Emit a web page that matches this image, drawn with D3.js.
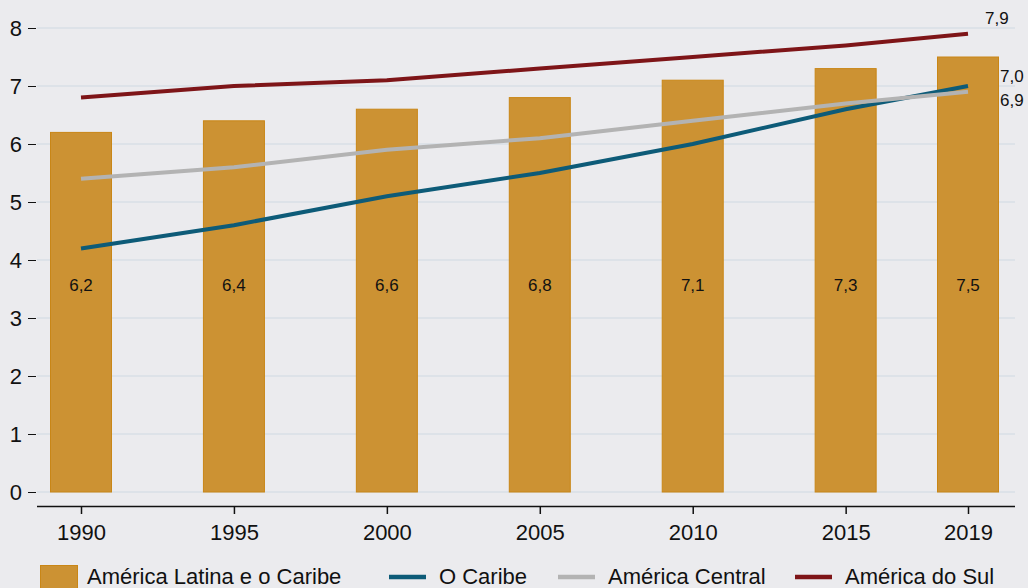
<!DOCTYPE html>
<html>
<head>
<meta charset="utf-8">
<script src="https://cdn.jsdelivr.net/npm/d3@7"></script>
<style>
  html, body { margin: 0; padding: 0; background: #ebebee; }
  svg { display: block; font-family: "Liberation Sans", Arial, sans-serif; }
</style>
</head>
<body>
<svg id="chart" width="1028" height="588"></svg>
<script>
// Years on the horizontal axis
const years = [1990, 1995, 2000, 2005, 2010, 2015, 2019];
// América Latina e o Caribe (bars)
const latinAmerica = [6.2, 6.4, 6.6, 6.8, 7.1, 7.3, 7.5];
// Sub-regions (lines)
const caribbean = [4.2, 4.6, 5.1, 5.5, 6.0, 6.6, 7.0];
const centralAmerica = [5.4, 5.6, 5.9, 6.1, 6.4, 6.7, 6.9];
const southAmerica = [6.8, 7.0, 7.1, 7.3, 7.5, 7.7, 7.9];
const yTicks = [0, 1, 2, 3, 4, 5, 6, 7, 8];

const fmt = v => d3.format(".1f")(v).replace(".", ",");

const svg = d3.select("#chart");
const x = d3.scaleLinear().domain([1990, 2019]).range([81, 968]);
const y = d3.scaleLinear().domain([0, 8]).range([492, 28]);
const barW = 61;
const axisFont = 22;
const valueFont = 17;

const series = [
  { name: "O Caribe", values: caribbean, color: "#0d5b78" },
  { name: "América Central", values: centralAmerica, color: "#b3b3b3" },
  { name: "América do Sul", values: southAmerica, color: "#7e1518" }
];

// horizontal gridlines
svg.append("g").selectAll("line").data(yTicks).join("line")
  .attr("x1", 37).attr("x2", 1015)
  .attr("y1", d => y(d)).attr("y2", d => y(d))
  .attr("stroke", "#d9dfe6").attr("stroke-width", 1.5);

// y axis (ticks + labels, no domain line)
const yAxis = svg.append("g").attr("transform", "translate(36,0)")
  .call(d3.axisLeft(y).tickValues(yTicks).tickSize(8).tickPadding(6).tickFormat(d3.format("d")));
yAxis.select(".domain").remove();
yAxis.selectAll("text").attr("font-size", axisFont).attr("fill", "#111").attr("font-family", "Liberation Sans, Arial, sans-serif");
yAxis.selectAll("line").attr("stroke", "#111");

// bars
svg.append("g").selectAll("rect").data(years).join("rect")
  .attr("x", (d) => x(d) - barW / 2)
  .attr("width", barW)
  .attr("y", (d, i) => y(latinAmerica[i]))
  .attr("height", (d, i) => y(0) - y(latinAmerica[i]))
  .attr("fill", "#cc9233")
  .attr("stroke", "#c98616").attr("stroke-width", 1);

// bar value labels
svg.append("g").selectAll("text").data(years).join("text")
  .attr("x", d => x(d))
  .attr("y", 291)
  .attr("text-anchor", "middle")
  .attr("font-size", valueFont)
  .attr("fill", "#111")
  .text((d, i) => fmt(latinAmerica[i]));

// x axis
const xAxis = svg.append("g").attr("transform", "translate(0,506)")
  .call(d3.axisBottom(x).tickValues(years).tickSize(8).tickPadding(10).tickFormat(d3.format("d")).tickSizeOuter(0));
xAxis.select(".domain").attr("d", "M37,0.5H1015").attr("stroke", "#111").attr("stroke-width", 1.5);
xAxis.selectAll("line").attr("stroke", "#111").attr("stroke-width", 1.5);
xAxis.selectAll("text").attr("font-size", axisFont).attr("fill", "#111").attr("font-family", "Liberation Sans, Arial, sans-serif");

// lines
const line = d3.line().x((d, i) => x(years[i])).y(d => y(d));
series.forEach(s => {
  svg.append("path").datum(s.values)
    .attr("d", line)
    .attr("fill", "none")
    .attr("stroke", s.color)
    .attr("stroke-width", 4);
});

// end-of-line labels
const last = years.length - 1;
const endLabels = [
  { v: southAmerica[last], dx: 17, dy: -10 },
  { v: caribbean[last], dx: 32, dy: -4 },
  { v: centralAmerica[last], dx: 32, dy: 14 }
];
svg.append("g").selectAll("text").data(endLabels).join("text")
  .attr("x", d => x(years[last]) + d.dx)
  .attr("y", d => y(d.v) + d.dy)
  .attr("font-size", valueFont)
  .attr("fill", "#111")
  .text(d => fmt(d.v));

// legend
const lg = svg.append("g");
lg.append("rect").attr("x", 40.5).attr("y", 565.5).attr("width", 37).attr("height", 30)
  .attr("fill", "#cc9233").attr("stroke", "#c98616");
lg.append("text").attr("x", 87).attr("y", 584).attr("font-size", axisFont).attr("fill", "#111")
  .text("América Latina e o Caribe");
const legendX = [389, 558, 795];
series.forEach((s, i) => {
  lg.append("line").attr("x1", legendX[i]).attr("x2", legendX[i] + 37)
    .attr("y1", 577).attr("y2", 577)
    .attr("stroke", s.color).attr("stroke-width", 4.5);
  lg.append("text").attr("x", legendX[i] + 50).attr("y", 584).attr("font-size", axisFont).attr("fill", "#111")
    .text(s.name);
});
</script>
</body>
</html>
